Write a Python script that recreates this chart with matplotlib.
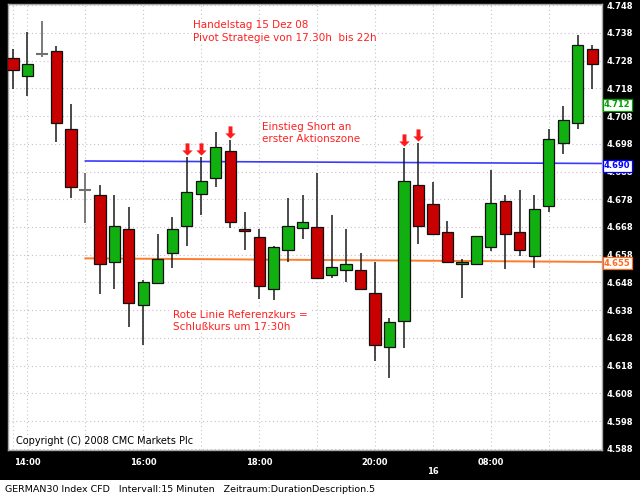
import matplotlib
matplotlib.use("Agg")
import matplotlib.pyplot as plt
from matplotlib.path import Path
from matplotlib.patches import Rectangle
import matplotlib.transforms as mtransforms

# ---------------- data ----------------
times = ["13:45"] + [f"{h:02d}:{m:02d}" for h in range(14, 22) for m in (0, 15, 30, 45)] + \
        [f"{h:02d}:{m:02d}" for h in range(8, 10) for m in (0, 15, 30, 45)]

opens = [4729.1, 4722.5, 4730.5, 4731.4, 4703.3, 4681.3, 4679.4, 4655.5, 4667.2, 4639.8,
         4647.7, 4658.5, 4668.4, 4679.8, 4685.5, 4695.3, 4667.2, 4664.3, 4645.5, 4659.7,
         4667.5, 4668.1, 4650.6, 4652.6, 4652.4, 4644.2, 4624.6, 4634.2, 4683.1, 4676.2,
         4666.1, 4654.5, 4654.5, 4660.7, 4677.2, 4666.1, 4657.4, 4675.7, 4698.4, 4705.6,
         4732.1]
highs = [4732.1, 4738.2, 4742.4, 4733.3, 4712.3, 4687.3, 4683.1, 4679.5, 4675.3, 4648.9,
         4665.4, 4671.5, 4693.3, 4693.3, 4702.1, 4699.4, 4673.4, 4667.2, 4661.2, 4678.3,
         4679.5, 4687.3, 4672.3, 4667.3, 4658.5, 4655.3, 4635.3, 4696.6, 4698.4, 4684.3,
         4670.2, 4656.3, 4664.6, 4688.4, 4679.4, 4681.2, 4679.4, 4703.4, 4711.5, 4737.4,
         4733.5]
lows = [4717.6, 4715.3, 4729.4, 4698.5, 4678.6, 4669.6, 4643.9, 4645.7, 4631.8, 4625.4,
        4647.5, 4653.3, 4661.3, 4672.3, 4682.3, 4667.8, 4659.7, 4641.9, 4641.7, 4655.5,
        4663.6, 4649.3, 4649.5, 4648.3, 4645.5, 4619.7, 4613.5, 4624.5, 4661.8, 4665.3,
        4655.3, 4642.5, 4654.5, 4659.5, 4652.7, 4657.5, 4653.3, 4673.5, 4694.4, 4703.4,
        4717.6]
closes = [4724.6, 4726.6, 4730.5, 4705.6, 4682.5, 4681.3, 4654.5, 4668.4, 4640.5, 4648.3,
          4656.6, 4667.4, 4680.5, 4684.6, 4696.8, 4669.7, 4666.4, 4646.6, 4660.7, 4668.4,
          4669.7, 4649.5, 4653.5, 4654.5, 4645.7, 4625.5, 4633.6, 4684.6, 4668.4, 4665.5,
          4655.5, 4655.4, 4664.6, 4676.5, 4665.6, 4659.6, 4674.4, 4699.6, 4706.4, 4733.5,
          4726.6]

signal_idx = [12, 13, 15, 27, 28]          # red "short" arrows
blue_line = [4691.8, 4690.9]               # pivot line (start, end)
orange_line = [4656.7, 4655.4]             # reference close line (start, end)
line_start_idx = 5
price_labels = [("4.712", 4712, "#00a000"), ("4.690", 4690, "#0000ff"), ("4.655", 4655, "#ff6a1a")]
y_ticks = list(range(4588, 4749, 10))
x_label_times = ["14:00", "16:00", "18:00", "20:00", "08:00"]
date_marker = ("16", "21:00")

assert len(opens) == len(highs) == len(lows) == len(closes) == len(times) == 41

# ---------------- figure ----------------
W, H = 640, 500
fig = plt.figure(figsize=(6.4, 5.0), dpi=100, facecolor="black")
fig.patches.append(Rectangle((0, 0), 1, 20 / H, transform=fig.transFigure,
                             facecolor="white", edgecolor="none", zorder=0))

def fx(px):
    return px / W

def fy(py):
    return 1 - py / H

ax = fig.add_axes([fx(8), fy(450), fx(602) - fx(8), fy(4) - fy(450)])
ax.set_facecolor("white")
x0, dx = 13, 14.48
ax.set_xlim((8 - x0) / dx, (602 - x0) / dx)
ax.set_ylim(4587.6, 4748.4)
for s in ax.spines.values():
    s.set_color("#a8a8a8")
    s.set_linewidth(1.0)

# grid
for y in y_ticks:
    ax.axhline(y, color="#d4b8d4", lw=0.8, ls=(0, (1, 2.5)), zorder=0)
grid_idx = [0] + [i for i, t in enumerate(times) if t.endswith(":00")]
for i in grid_idx:
    ax.axvline(i, color="#b8cccc", lw=0.8, ls=(0, (1, 2.5)), zorder=0)

# reference lines
xr = ax.get_xlim()[1]
ax.plot([line_start_idx, xr], blue_line, color="#3a3aff", lw=1.2, zorder=1)
ax.plot([line_start_idx, xr], orange_line, color="#ff7a2a", lw=1.4, zorder=1)

# candles
bw = 0.78
for i, (o, h, l, c) in enumerate(zip(opens, highs, lows, closes)):
    if o == c:
        ax.vlines(i, l, h, color="#707070", lw=1.3, zorder=2)
        ax.hlines(o, i - 0.42, i + 0.42, color="#707070", lw=1.5, zorder=3)
        continue
    ax.vlines(i, l, h, color="#1a1a1a", lw=1.1, zorder=2)
    col = "#10b010" if c > o else "#c80000"
    ax.bar(i, abs(c - o), bottom=min(o, c), width=bw, color=col,
           edgecolor="#101010", linewidth=0.9, zorder=3)

# arrows
arrow = Path([(-0.32, 1.0), (0.32, 1.0), (0.32, -0.15), (0.85, -0.15), (0.0, -1.0),
              (-0.85, -0.15), (-0.32, -0.15), (-0.32, 1.0)],
             [Path.MOVETO] + [Path.LINETO] * 6 + [Path.CLOSEPOLY])
for i in signal_idx:
    ax.plot(i, highs[i] + 2.9, marker=arrow, markersize=8.8, color="#ff1a1a",
            markeredgewidth=0, zorder=4)

# axes ticks
ax.yaxis.tick_right()
ax.set_yticks(y_ticks)
ax.set_yticklabels([f"{v // 1000}.{v % 1000:03d}" for v in y_ticks])
ax.tick_params(axis="y", length=0, pad=3, labelcolor="white", labelsize=6)
for t in ax.get_yticklabels():
    t.set_fontweight("bold")
ax.set_xticks([times.index(t) for t in x_label_times])
ax.set_xticklabels(x_label_times)
ax.tick_params(axis="x", length=0, pad=6, labelcolor="white", labelsize=6)
for t in ax.get_xticklabels():
    t.set_fontweight("bold")

trans = mtransforms.blended_transform_factory(ax.transData, fig.transFigure)
ax.text(times.index(date_marker[1]), fy(471), date_marker[0], transform=trans,
        color="white", fontsize=6, fontweight="bold", ha="center", va="center")

# price boxes on the right axis
btrans = mtransforms.blended_transform_factory(ax.transAxes, ax.transData)
for txt, val, col in price_labels:
    ax.text(1.003, val, txt, transform=btrans, color=col, fontsize=6, fontweight="bold",
            ha="left", va="center", zorder=6, clip_on=False,
            bbox=dict(boxstyle="square,pad=0.15", facecolor="white", edgecolor=col, linewidth=0.9))

# annotations
red = "#ff2020"
notes = [(193, 25, "Handelstag 15 Dez 08"),
         (193, 38, "Pivot Strategie von 17.30h  bis 22h"),
         (262, 127, "Einstieg Short an"),
         (262, 139, "erster Aktionszone"),
         (173, 315, "Rote Linie Referenzkurs ="),
         (173, 327, "Schlußkurs um 17:30h")]
for px, py, s in notes:
    fig.text(fx(px), fy(py), s, color=red, fontsize=7.5, ha="left", va="center", zorder=5,
             bbox=dict(boxstyle="square,pad=0.1", facecolor="white", edgecolor="none"))

fig.text(fx(16), fy(441), "Copyright (C) 2008 CMC Markets Plc", color="black", fontsize=7,
         ha="left", va="center")
fig.text(fx(5), fy(490), "GERMAN30 Index CFD   Intervall:15 Minuten   Zeitraum:DurationDescription.5",
         color="black", fontsize=6.8, ha="left", va="center")

fig.savefig("out.png", dpi=100, facecolor="black")
